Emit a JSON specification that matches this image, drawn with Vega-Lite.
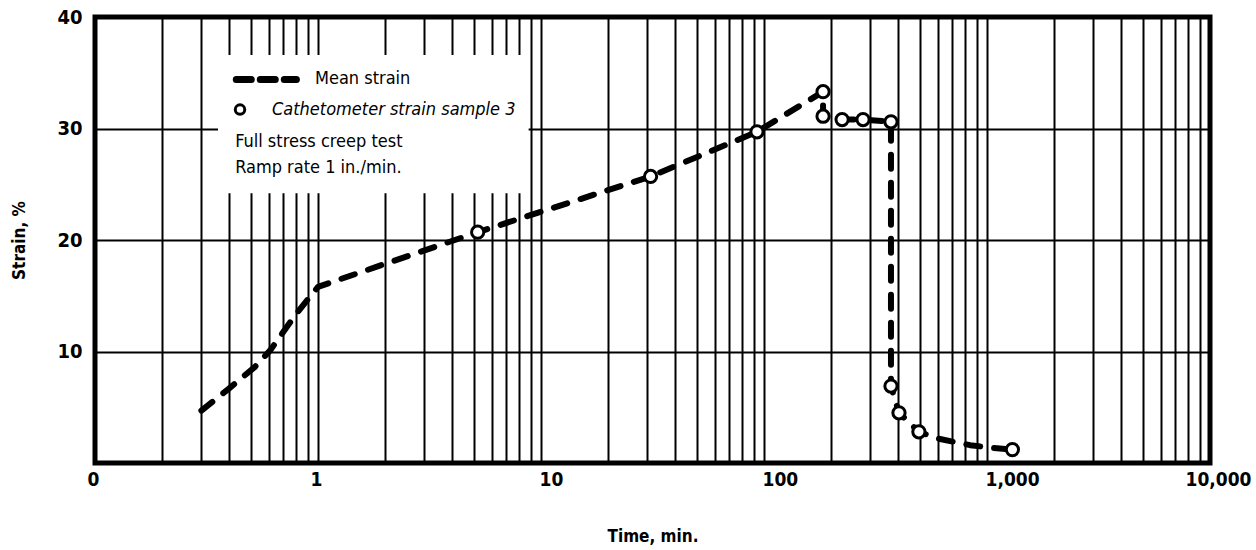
{
  "$schema": "https://vega.github.io/schema/vega-lite/v6.json",
  "autosize": "none",
  "width": 1115,
  "height": 446,
  "padding": {"left": 95, "top": 17, "right": 46, "bottom": 87},
  "background": "white",
  "config": {
    "view": {"stroke": "black", "strokeWidth": 5},
    "font": "'DejaVu Sans Condensed', 'Liberation Sans Narrow', 'Liberation Sans', sans-serif",
    "axis": {
      "domain": false,
      "ticks": false,
      "grid": true,
      "gridColor": "black",
      "gridWidth": 2,
      "gridOpacity": 1,
      "labelColor": "black",
      "titleColor": "black",
      "labelFont": "'DejaVu Sans Condensed', 'Liberation Sans Narrow', 'Liberation Sans', sans-serif",
      "titleFont": "'DejaVu Sans Condensed', 'Liberation Sans Narrow', 'Liberation Sans', sans-serif",
      "labelFontWeight": "bold",
      "titleFontWeight": "bold"
    }
  },
  "datasets": {
    "mean": [
      {"i": 1, "t": 0.3, "s": 4.7},
      {"i": 2, "t": 0.4, "s": 6.7},
      {"i": 3, "t": 0.52, "s": 8.6},
      {"i": 4, "t": 0.61, "s": 10.1},
      {"i": 5, "t": 0.8, "s": 13.4},
      {"i": 6, "t": 1.0, "s": 15.8},
      {"i": 7, "t": 5.2, "s": 20.7},
      {"i": 8, "t": 31, "s": 25.7},
      {"i": 9, "t": 93, "s": 29.7},
      {"i": 10, "t": 184, "s": 33.3},
      {"i": 11, "t": 184, "s": 31.1},
      {"i": 12, "t": 224, "s": 30.8},
      {"i": 13, "t": 278, "s": 30.8},
      {"i": 14, "t": 371, "s": 30.6},
      {"i": 15, "t": 371, "s": 6.9},
      {"i": 16, "t": 403, "s": 4.5},
      {"i": 17, "t": 495, "s": 2.8},
      {"i": 18, "t": 600, "s": 2.2},
      {"i": 19, "t": 840, "s": 1.6},
      {"i": 20, "t": 1065, "s": 1.35},
      {"i": 21, "t": 1300, "s": 1.2}
    ],
    "cath": [
      {"t": 5.2, "s": 20.7},
      {"t": 31, "s": 25.7},
      {"t": 93, "s": 29.7},
      {"t": 184, "s": 33.3},
      {"t": 184, "s": 31.1},
      {"t": 224, "s": 30.8},
      {"t": 278, "s": 30.8},
      {"t": 371, "s": 30.6},
      {"t": 371, "s": 6.9},
      {"t": 403, "s": 4.5},
      {"t": 495, "s": 2.8},
      {"t": 1300, "s": 1.2}
    ]
  },
  "layer": [
    {
      "data": {"name": "mean"},
      "mark": {"type": "line", "color": "black", "strokeWidth": 6, "strokeDash": [14, 14], "strokeCap": "round", "strokeJoin": "round"},
      "encoding": {
        "x": {
          "field": "t", "type": "quantitative",
          "scale": {"type": "log", "domain": [0.1, 10000], "nice": false},
          "axis": {
            "values": [0.1,0.2,0.3,0.4,0.5,0.6,0.7,0.8,0.9,1,2,3,4,5,6,7,8,9,10,20,30,40,50,60,70,80,90,100,200,300,400,500,600,700,800,900,1000,2000,3000,4000,5000,6000,7000,8000,9000,10000],
            "labelExpr": "datum.value < 0.15 ? '0' : (indexof([1,10,100,1000,10000], datum.value) >= 0 ? format(datum.value, ',') : '')",
            "labelOverlap": false,
            "labelFlush": false,
            "labelFontSize": 19,
            "labelPadding": 7,
            "labelAlign": {"condition": {"test": "datum.value >= 10 && datum.value <= 1000", "value": "left"}, "value": "center"},
            "labelOffset": {"condition": {"test": "datum.value > 5000", "value": 8}, "value": -2},
            "title": "Time, min.",
            "titleFontSize": 17,
            "titlePadding": 39
          }
        },
        "y": {
          "field": "s", "type": "quantitative",
          "scale": {"domain": [0, 40], "nice": false},
          "axis": {
            "values": [10, 20, 30, 40],
            "labelFontSize": 20,
            "labelPadding": 13,
            "title": "Strain, %",
            "titleFontSize": 17,
            "titlePadding": 28
          }
        },
        "order": {"field": "i", "type": "quantitative"}
      }
    },
    {
      "data": {"values": [{}]},
      "mark": {"type": "rect", "fill": "white", "stroke": null},
      "encoding": {
        "x": {"datum": 0.356, "type": "quantitative"},
        "x2": {"datum": 8.8},
        "y": {"datum": 24.2, "type": "quantitative"},
        "y2": {"datum": 36.6}
      }
    },
    {
      "data": {"name": "cath"},
      "mark": {"type": "point", "shape": "circle", "filled": true, "fill": "white", "stroke": "black", "strokeWidth": 3, "size": 150, "opacity": 1},
      "encoding": {
        "x": {"field": "t", "type": "quantitative"},
        "y": {"field": "s", "type": "quantitative"}
      }
    },
    {
      "data": {"values": [{}]},
      "mark": {"type": "rule", "color": "black", "strokeWidth": 7, "strokeDash": [15, 9], "strokeCap": "round"},
      "encoding": {
        "x": {"datum": 0.43, "type": "quantitative"},
        "x2": {"datum": 0.8},
        "y": {"datum": 34.4, "type": "quantitative"}
      }
    },
    {
      "data": {"values": [{}]},
      "mark": {"type": "point", "shape": "circle", "filled": true, "fill": "white", "stroke": "black", "strokeWidth": 3, "size": 90, "opacity": 1},
      "encoding": {
        "x": {"datum": 0.447, "type": "quantitative"},
        "y": {"datum": 31.7, "type": "quantitative"}
      }
    },
    {
      "data": {"values": [{}]},
      "mark": {"type": "text", "text": "Mean strain", "align": "left", "baseline": "middle", "fontSize": 18, "color": "black"},
      "encoding": {
        "x": {"datum": 0.969, "type": "quantitative"},
        "y": {"datum": 34.4, "type": "quantitative"}
      }
    },
    {
      "data": {"values": [{}]},
      "mark": {"type": "text", "text": "Cathetometer strain sample 3", "align": "left", "baseline": "middle", "fontSize": 18, "fontStyle": "italic", "color": "black"},
      "encoding": {
        "x": {"datum": 0.622, "type": "quantitative"},
        "y": {"datum": 31.7, "type": "quantitative"}
      }
    },
    {
      "data": {"values": [{}]},
      "mark": {"type": "text", "text": "Full stress creep test", "align": "left", "baseline": "middle", "fontSize": 18, "color": "black"},
      "encoding": {
        "x": {"datum": 0.425, "type": "quantitative"},
        "y": {"datum": 28.8, "type": "quantitative"}
      }
    },
    {
      "data": {"values": [{}]},
      "mark": {"type": "text", "text": "Ramp rate 1 in./min.", "align": "left", "baseline": "middle", "fontSize": 18, "color": "black"},
      "encoding": {
        "x": {"datum": 0.425, "type": "quantitative"},
        "y": {"datum": 26.5, "type": "quantitative"}
      }
    }
  ]
}
